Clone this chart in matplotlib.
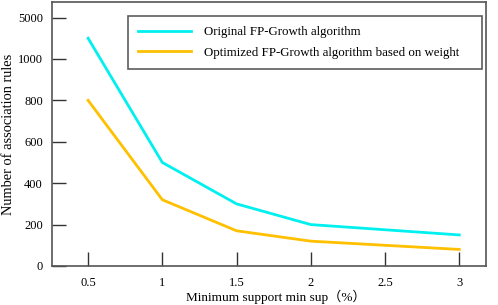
import matplotlib
matplotlib.use("Agg")
import matplotlib.pyplot as plt

support = [0.5, 1, 1.5, 2, 3]
original = [1100, 500, 300, 200, 150]
optimized = [800, 320, 170, 120, 80]
x_ticks = [0.5, 1, 1.5, 2, 2.5, 3]
x_labels = ["0.5", "1", "1.5", "2", "2.5", "3"]
y_ticks = [0, 200, 400, 600, 800, 1000, 1200]
y_labels = ["0", "200", "400", "600", "800", "1000", "5000"]

plt.rcParams['font.family'] = ['Liberation Serif', 'DejaVu Serif']

fig = plt.figure(figsize=(4.98, 3.05), dpi=100)
ax = fig.add_axes([52/498, 1 - 266/305, (486-52)/498, (266-2)/305])

ax.plot(support, original, color='#00f0f0', lw=2, label='Original FP-Growth algorithm')
ax.plot(support, optimized, color='#ffc000', lw=2, label='Optimized FP-Growth algorithm based on weight')

ax.set_xlim(0.257, 3.18)
ax.set_ylim(0, 1275)
ax.set_xticks(x_ticks)
ax.set_xticklabels(x_labels)
ax.set_yticks(y_ticks)
ax.set_yticklabels(y_labels)
ax.tick_params(direction='in', length=10, width=1, color='#333333', labelsize=9)
ax.tick_params(axis='y', pad=6.5)
ax.tick_params(axis='x', pad=8)
for s in ax.spines.values():
    s.set_color('#555555')
    s.set_linewidth(1.2)

ax.set_xlabel('Minimum support min sup（%）', fontsize=9.5, va='center',
              family=['Liberation Serif', 'Noto Sans CJK SC'])
ax.xaxis.set_label_coords(0.515, (266 - 297) / 264)
ax.set_ylabel('Number of association rules', fontsize=10.4, va='center')
ax.yaxis.set_label_coords((9 - 52) / 434, 0.5)

lx0, lx1 = 128/498, 482/498
ly1 = 1 - 16/305
leg = ax.legend(loc='upper left', bbox_to_anchor=(lx0, ly1 - 0.2, lx1 - lx0, 0.2), bbox_transform=fig.transFigure,
                mode='expand', fontsize=9.3, frameon=True, fancybox=False, edgecolor='#333333',
                handlelength=4.1, handletextpad=1.0, borderpad=0.8, labelspacing=0.65, borderaxespad=0)
leg.get_frame().set_linewidth(1.2)

fig.savefig('out.png', dpi=100)
